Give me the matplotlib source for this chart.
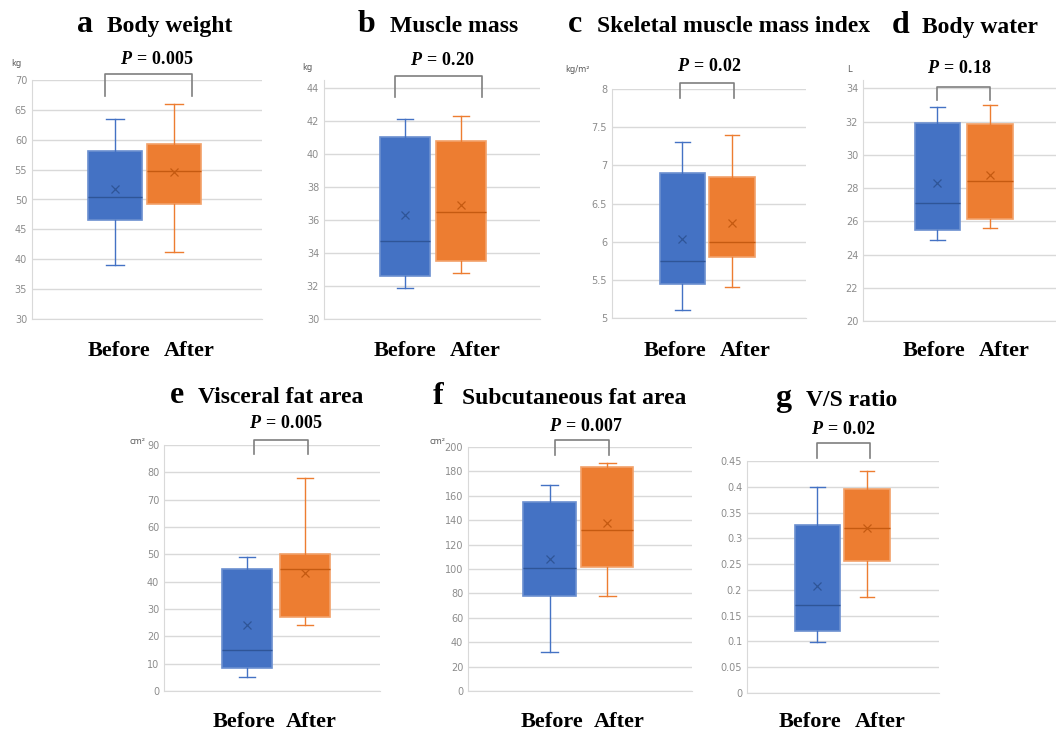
import matplotlib

matplotlib.use("Agg")
import matplotlib.pyplot as plt
from matplotlib.lines import Line2D
import numpy as np

plt.rcParams["mathtext.fontset"] = "custom"
plt.rcParams["mathtext.rm"] = "Liberation Serif:bold"
plt.rcParams["mathtext.it"] = "Liberation Serif:italic:bold"

W, H = 1056, 730

# panel data: [whisker low, Q1, median, Q3, whisker high, mean]
weight_before = [39.0, 46.5, 50.5, 58.1, 63.5, 51.8]
weight_after = [41.2, 49.2, 54.8, 59.3, 65.9, 54.6]
muscle_before = [31.9, 32.6, 34.75, 41.0, 42.1, 36.3]
muscle_after = [32.8, 33.5, 36.5, 40.8, 42.3, 36.9]
smi_before = [5.1, 5.45, 5.75, 6.9, 7.3, 6.04]
smi_after = [5.4, 5.8, 6.0, 6.85, 7.4, 6.25]
water_before = [24.9, 25.45, 27.1, 31.9, 32.9, 28.3]
water_after = [25.6, 26.15, 28.4, 31.85, 33.0, 28.8]
vfa_before = [5.0, 8.5, 15.0, 44.5, 49.0, 24.0]
vfa_after = [24.0, 27.0, 44.5, 50.3, 78.0, 43.0]
sfa_before = [32.0, 78.0, 101.0, 155.0, 169.0, 108.0]
sfa_after = [78.0, 102.0, 132.0, 184.0, 187.0, 137.5]
vs_before = [0.098, 0.12, 0.17, 0.325, 0.40, 0.207]
vs_after = [0.187, 0.257, 0.32, 0.395, 0.43, 0.32]

letters = ["a", "b", "c", "d", "e", "f", "g"]
titles = ["Body weight", "Muscle mass", "Skeletal muscle mass index", "Body water",
          "Visceral fat area", "Subcutaneous fat area", "V/S ratio"]
p_values = ["0.005", "0.20", "0.02", "0.18", "0.005", "0.007", "0.02"]
units = ["kg", "kg", "kg/m²", "L", "cm²", "cm²", ""]
yticks = [np.arange(30, 71, 5), np.arange(30, 45, 2), np.arange(5, 8.01, 0.5),
          np.arange(20, 35, 2), np.arange(0, 91, 10), np.arange(0, 201, 20),
          np.arange(0, 0.451, 0.05)]
data = [(weight_before, weight_after), (muscle_before, muscle_after),
        (smi_before, smi_after), (water_before, water_after),
        (vfa_before, vfa_after), (sfa_before, sfa_after), (vs_before, vs_after)]

# layout in pixels
axes_px = [(32, 80, 262, 319), (324, 80, 540, 319), (612, 89, 806, 318),
           (863, 80, 1056, 321), (164, 445, 380, 691), (468, 447, 692, 691),
           (747, 461, 939, 693)]
ylims = [(30, 70), (30, 44.48), (5, 8), (20, 34.5), (0, 90), (0, 200), (0, 0.45)]
centers = [(0.361, 0.617), (0.375, 0.634), (0.363, 0.619), (0.386, 0.658),
           (0.384, 0.653), (0.364, 0.621), (0.367, 0.625)]
letter_px = [(77, 107, 32), (358, 390, 32), (568, 597, 32), (892, 922, 33),
             (170, 198, 403), (433, 462, 404), (775, 806, 406)]
p_px = [(157, 64), (442, 65), (709, 71), (959, 73), (286, 428), (586, 431), (843, 434)]
bracket_px = [(105, 192, 74, 96), (395, 482, 76, 97), (680, 734, 83, 98),
              (937, 990, 87, 100), (254, 308, 440, 454), (555, 609, 440, 455),
              (817, 870, 443, 458)]
group_px = [(119, 189, 356), (405, 475, 356), (675, 745, 356), (934, 1004, 356),
            (244, 311, 727), (552, 619, 727), (810, 880, 727)]
unit_px = [(16, 64), (307, 67), (577, 69), (849, 70), (138, 441), (438, 442), (0, 0)]

BLUE, BLUE_EDGE, BLUE_DARK = "#4472C4", "#6b8fd0", "#2f5597"
ORANGE, ORANGE_EDGE, ORANGE_DARK = "#ED7D31", "#f2a169", "#c55a11"
SERIF = "Liberation Serif"


def fx(x):
    return x / W


def fy(y):
    return 1 - y / H


def stats(v):
    return {"whislo": v[0], "q1": v[1], "med": v[2], "q3": v[3],
            "whishi": v[4], "mean": v[5], "fliers": []}


def tick_fmt(v, pos):
    return f"{v:g}" if abs(v) > 1e-9 else "0"


fig = plt.figure(figsize=(W / 100, H / 100), dpi=100)

for i in range(7):
    x0, y0, x1, y1 = axes_px[i]
    ax = fig.add_axes([fx(x0), fy(y1), (x1 - x0) / W, (y1 - y0) / H])
    ax.set_xlim(0, 1)
    ax.set_ylim(*ylims[i])
    ax.set_yticks(yticks[i])
    ax.yaxis.set_major_formatter(plt.FuncFormatter(tick_fmt))
    ax.tick_params(axis="y", length=0, labelsize=7, labelcolor="#8c8c8c", pad=3.5)
    ax.set_xticks([])
    ax.grid(axis="y", color="#d9d9d9", linewidth=1)
    ax.set_axisbelow(True)
    for side in ["top", "right"]:
        ax.spines[side].set_visible(False)
    for side in ["left", "bottom"]:
        ax.spines[side].set_color("#d9d9d9")

    for vals, pos, face, edge, dark in [(data[i][0], centers[i][0], BLUE, BLUE_EDGE, BLUE_DARK),
                                        (data[i][1], centers[i][1], ORANGE, ORANGE_EDGE, ORANGE_DARK)]:
        ax.bxp([stats(vals)], positions=[pos], widths=0.235, capwidths=0.075,
               patch_artist=True, showmeans=True, showfliers=False, manage_ticks=False,
               boxprops=dict(facecolor=face, edgecolor=edge, linewidth=1.2),
               medianprops=dict(color=dark, linewidth=1),
               whiskerprops=dict(color=face, linewidth=1),
               capprops=dict(color=face, linewidth=1),
               meanprops=dict(marker="x", markeredgecolor=dark, markersize=6,
                              markeredgewidth=0.9))

    # title
    lx, nx, by = letter_px[i]
    fig.text(fx(lx), fy(by), letters[i], fontsize=23, fontweight="bold",
             family=SERIF, va="baseline", ha="left")
    fig.text(fx(nx), fy(by), titles[i], fontsize=17, fontweight="bold",
             family=SERIF, va="baseline", ha="left")

    # p value
    px, py = p_px[i]
    fig.text(fx(px), fy(py), r"$\mathit{P}\,=\,$" + p_values[i], fontsize=13,
             fontweight="bold", family=SERIF, va="baseline", ha="center")

    # bracket
    bx0, bx1, bt, bb = bracket_px[i]
    fig.add_artist(Line2D([fx(bx0), fx(bx0), fx(bx1), fx(bx1)],
                          [fy(bb), fy(bt), fy(bt), fy(bb)],
                          color="#7f7f7f", linewidth=1.2))

    # group labels
    gb, ga, gy = group_px[i]
    fig.text(fx(gb), fy(gy), "Before", fontsize=16, fontweight="bold",
             family=SERIF, va="baseline", ha="center")
    fig.text(fx(ga), fy(gy), "After", fontsize=16, fontweight="bold",
             family=SERIF, va="baseline", ha="center")

    if units[i]:
        ux, uy = unit_px[i]
        fig.text(fx(ux), fy(uy), units[i], fontsize=6, color="#595959",
                 va="center", ha="center")

fig.savefig("out.png", dpi=100)
